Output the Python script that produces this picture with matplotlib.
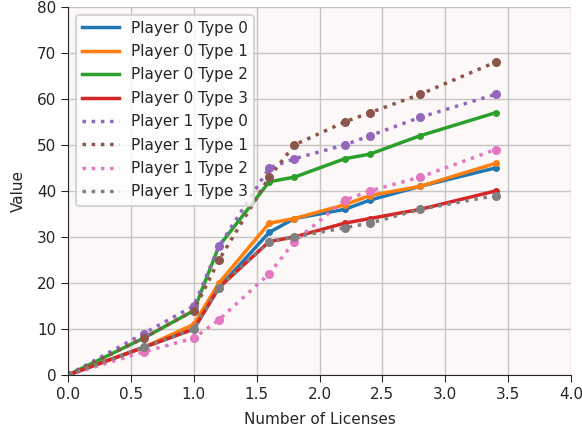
import matplotlib
matplotlib.use("Agg")
import matplotlib.pyplot as plt
from matplotlib.lines import Line2D

x = [0.0, 0.6, 1.0, 1.2, 1.6, 1.8, 2.2, 2.4, 2.8, 3.4]

p0_t0 = [0, 6, 10, 19, 31, 34, 36, 38, 41, 45]
p0_t1 = [0, 6, 11, 20, 33, 34, 37, 39, 41, 46]
p0_t2 = [0, 8, 14, 28, 42, 43, 47, 48, 52, 57]
p0_t3 = [0, 6, 10, 19, 29, 30, 33, 34, 36, 40]
p1_t0 = [0, 9, 15, 28, 45, 47, 50, 52, 56, 61]
p1_t1 = [0, 8, 14, 25, 43, 50, 55, 57, 61, 68]
p1_t2 = [0, 5, 8, 12, 22, 29, 38, 40, 43, 49]
p1_t3 = [0, 6, 10, 19, 29, 30, 32, 33, 36, 39]

labels = ["Player 0 Type 0", "Player 0 Type 1", "Player 0 Type 2", "Player 0 Type 3",
          "Player 1 Type 0", "Player 1 Type 1", "Player 1 Type 2", "Player 1 Type 3"]
series = [p0_t0, p0_t1, p0_t2, p0_t3, p1_t0, p1_t1, p1_t2, p1_t3]
colors = ["#1f77b4", "#ff7f0e", "#2ca02c", "#d62728",
          "#9467bd", "#8c564b", "#e377c2", "#7f7f7f"]

text_color = "#262626"
plt.rcParams['font.family'] = ['DejaVu Sans']
plt.rcParams['text.color'] = text_color
plt.rcParams['axes.labelcolor'] = text_color
plt.rcParams['xtick.color'] = text_color
plt.rcParams['ytick.color'] = text_color
plt.rcParams['axes.edgecolor'] = text_color

fig = plt.figure(figsize=(5.82, 4.33), dpi=100)
ax = fig.add_axes([0.117, 0.134, 0.864, 0.85])
ax.set_facecolor("#fdf8f8")

handles = []
for i, (lab, ys, c) in enumerate(zip(labels, series, colors)):
    if i < 4:
        ax.plot(x, ys, '-', color=c, lw=2.5, marker='o', ms=4, label=lab)
        handles.append(Line2D([], [], color=c, lw=2.5, ls='-', label=lab))
    else:
        ax.plot(x, ys, ':', color=c, lw=2.5, marker='o', ms=5.5, label=lab)
        handles.append(Line2D([], [], color=c, lw=2.5, ls=':', label=lab))

ax.set_xlim(0, 4)
ax.set_ylim(0, 80)
ax.set_xticks([0, 0.5, 1.0, 1.5, 2.0, 2.5, 3.0, 3.5, 4.0])
ax.set_yticks(range(0, 81, 10))
ax.grid(True, color="#c4c4c4", lw=1.0)
ax.set_axisbelow(True)
for s in ["top", "right"]:
    ax.spines[s].set_visible(False)
ax.tick_params(labelsize=11, direction='out', length=5)
ax.set_xlabel("Number of Licenses", fontsize=11, labelpad=7)
ax.set_ylabel("Value", fontsize=11, labelpad=8)
leg = ax.legend(handles=handles, loc="upper left", fontsize=11, frameon=True,
                handlelength=2.4, borderaxespad=0.5, labelspacing=0.55)
leg.get_frame().set_edgecolor("#cccccc")
leg.get_frame().set_linewidth(1.5)

fig.savefig("out.png", dpi=100)
